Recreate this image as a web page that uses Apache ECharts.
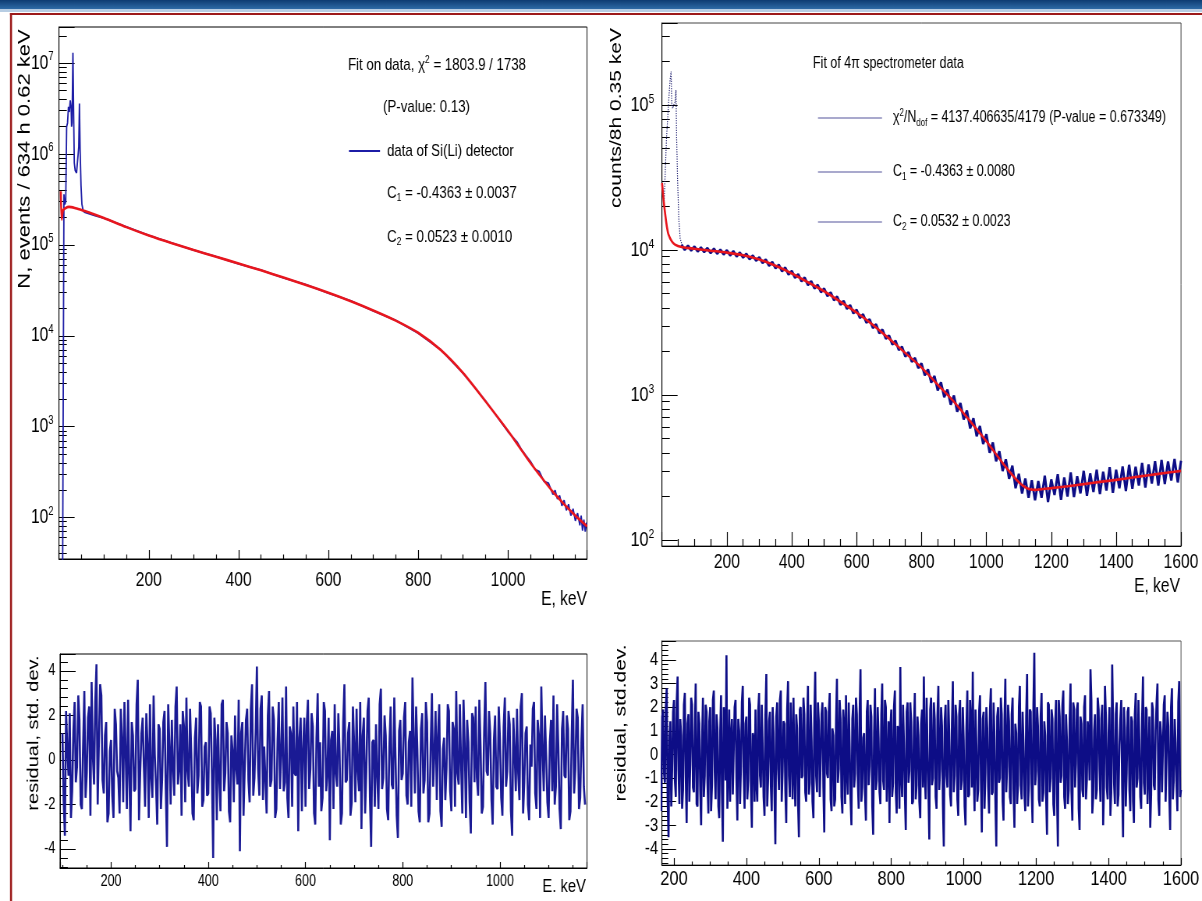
<!DOCTYPE html>
<html><head><meta charset="utf-8">
<script src="https://cdn.jsdelivr.net/npm/echarts@6/dist/echarts.min.js"></script>
<style>
html,body{margin:0;padding:0;overflow:hidden;background:#fff;width:1202px;height:901px}
#c{width:1541px;height:901px;transform:scaleX(0.78);transform-origin:0 0;}
</style></head><body><div id="c"></div>
<script>
// ---------- data ----------
// Panel A: Si(Li) detector spectrum (E keV, events)
const aDataE = [8,11,13,15,17,19,21,23,25,27,28,29,31,32.5,34,36,39,42,44,45.5,47,49,51,54,58,60,80,100,150,200,250,300,350,400,450,500,550,600,650,700,750,800,850,900,950,1000,1020,1030,1040,1050,1060,1070,1080,1090,1100,1105,1110,1115,1120,1125,1130,1135,1140,1145,1150,1155,1160,1163,1166,1169,1172,1175];
const aDataN = [20,360000,280000,300000,2000000,2200000,3300000,2900000,3900000,3200000,2000000,2200000,13000000,3000000,800000,660000,620000,640000,1200000,3600000,1100000,450000,280000,235000,228000,226000,210000,197000,158000,127500,105500,87500,74500,62000,52900,43500,36600,29500,24200,18800,14800,10700,7050,3870,1920,880,680,560,480,415,340,320,250,240,180,200,160,175,135,155,120,140,105,125,92,112,82,105,72,95,70,88];
const aFitE = [4,6,9,15,22,35,50,70,100,150,200,250,300,350,400,450,500,550,600,650,700,750,800,850,900,950,1000,1025,1050,1075,1100,1125,1150,1176];
const aFitN = [390000,190000,240000,255000,262000,255000,242000,225000,198000,157000,127000,105000,88000,74000,62500,52500,43800,36300,29700,24000,19000,14700,10800,7000,3900,1900,900,600,400,275,192,140,105,80];

// Panel B: 4pi spectrometer spectrum
const bSpikeE = [2,6,10,14,18,22,25,28,30,33,36,40,43,45,48,52,56,62];
const bSpikeN = [28000,20000,35000,60000,85000,120000,150000,170000,100000,95000,100000,105000,127000,60000,30000,16000,12000,10800];
const bDataStart = 60, bDataStep = 10;
const bDataN = [10900,10050,10700,9950,10550,9800,10400,9700,10300,9550,
  10200,9450,10050,9350,9950,9200,9800,9050,9600,8900,
  9400,8650,9150,8450,8900,8150,8600,7800,8250,7500,
  7900,7150,7550,6800,7150,6450,6800,6100,6450,5750,
  6080,5450,5750,5130,5420,4830,5090,4520,4760,4210,
  4450,3940,4160,3670,3870,3410,3600,3160,3330,2910,
  3070,2680,2820,2450,2570,2240,2360,2050,2150,1850,
  1970,1700,1800,1540,1650,1370,1500,1220,1350,1080,
  1220,970,1090,860,990,770,880,680,780,590,
  690,520,610,460,535,400,470,350,410,300,
  360,265,325,228,286,210,265,196,258,188,
  255,196,278,183,262,205,284,190,270,200,
  292,198,275,210,300,202,288,215,305,208,
  296,220,318,212,305,228,322,218,330,226,
  320,238,340,230,332,246,350,238,356,244,
  348,258,362,250,352];
const bFitE = [0,5,10,15,20,30,40,60,100,150,200,250,300,350,400,450,500,550,600,650,700,750,800,850,900,950,1000,1050,1100,1125,1150,1200,1250,1300,1350,1400,1450,1500,1550,1600];
const bFitN = [29000,22000,17500,14500,12800,11500,10900,10500,10200,9900,9600,9200,8600,7800,6900,6000,5200,4400,3700,3050,2450,1950,1550,1180,900,660,480,340,250,228,222,228,235,243,252,260,270,280,290,300];

// Panel C: residuals of Si(Li) fit (std. dev.); bins start at 100 keV, 2.5 keV apart
// cRes: bins at 100, 105, 110 ...; cResMid: bins at 102.5, 107.5, ...
const cResStart = 100, cResStep = 5;
const cRes = [1.2,-3.4,0.5,2.1,-1.4,2.6,-0.3,1.8,-2.2,3.1,-0.6,2.4,3.5,-1.1,4.3,0.8,2.9,-1.5,1.7,-2.4,
  0.9,-2.6,1.6,-0.8,2.3,-1.9,0.4,2.7,-3.2,1.1,-1.3,3.6,-0.5,1.9,-2.1,0.7,2.5,-1.7,0.2,-2.9,
  1.4,-0.9,2.2,-3.9,0.6,1.8,-1.6,3.3,-0.4,-2.5,1.5,2.8,-1.2,0.3,-2.7,1.9,-0.7,2.4,-1.8,0.8,
  -1.5,2.1,-4.4,0.9,1.6,-2.3,2.7,-0.6,1.2,-2.8,0.4,2.0,-1.1,-4.1,1.7,-0.3,2.3,-1.9,3.4,-0.8,
  4.2,-1.6,2.9,0.6,-2.4,3.1,-0.9,1.8,-2.2,2.6,0.3,-1.4,3.3,-2.6,1.2,2.4,-0.7,-3.2,1.9,0.5,
  -2.1,2.7,-0.4,1.5,-2.9,3.0,0.8,-1.7,2.2,-0.6,-3.6,1.3,2.5,-1.2,0.4,-2.4,3.4,-0.9,1.7,-1.9,
  0.7,2.3,-1.4,-3.1,1.9,-0.5,2.8,-3.9,0.9,1.6,-2.2,3.2,-0.8,1.1,-2.7,2.4,-1.3,0.2,-3.5,1.8,
  -0.6,2.6,-2.0,1.3,3.7,-1.5,0.5,-2.8,2.1,-0.9,1.7,-2.4,3.0,0.3,-1.8,2.5,-3.0,1.0,-0.4,2.2,
  -2.3,1.4,3.1,-1.1,-0.2,2.7,-2.6,0.8,-3.3,1.9,2.4,-1.6,0.6,-2.1,3.5,-0.7,1.2,-2.9,2.0,-1.3,
  0.9,-2.5,2.8,-0.5,1.6,-3.4,0.4,2.3,-1.8,3.0,-1.0,1.5,-2.7,-0.3,2.6,-2.2,1.1,3.3,-1.4,0.2,
  -2.6,1.8,2.9,-1.2,0.6,-3.1,2.2,-0.8,1.4,-2.3,3.6,-0.4,1.9,-1.7,2.5,-2.0];
const cResMid = [-1.8,2.2,-0.7,-2.6,1.3,-1.0,2.9,-2.0,0.6,-1.7,1.9,-2.5,0.2,2.6,-2.0,3.4,-0.9,1.1,-2.8,0.4,
  -1.6,2.3,-0.5,-2.4,1.0,2.6,-2.2,-0.6,1.7,-1.4,2.5,-2.7,1.2,-0.3,2.1,-2.6,-0.8,2.9,-1.2,1.6,
  -2.2,1.7,-1.3,2.5,-2.0,-0.4,2.4,-1.1,1.6,2.2,-1.9,-0.5,2.3,-2.4,1.0,-1.5,2.6,-2.1,0.6,-1.6,
  2.4,-0.6,1.9,-2.7,-0.8,2.5,-1.4,1.7,-2.3,1.1,-1.9,-0.4,2.7,1.2,-2.5,1.8,-0.9,2.3,-1.6,1.3,
  -0.4,2.3,-1.8,-0.9,2.0,-1.2,2.4,-2.6,0.9,-1.3,2.8,-1.0,-1.7,1.5,-2.1,-0.6,2.6,1.0,-2.3,1.9,
  1.6,-1.3,2.1,-2.4,1.0,-1.2,-2.3,2.6,-1.4,1.9,0.9,-2.2,-0.6,2.1,-2.9,1.7,-1.0,1.2,-2.5,2.4,
  -1.9,-0.5,2.6,1.1,-2.4,2.2,-1.7,0.8,-2.1,-0.7,2.5,-1.3,2.0,-2.2,0.6,-1.1,2.8,-2.5,1.3,-0.9,
  1.9,-1.6,0.8,-2.1,0.9,2.4,-2.3,1.4,-1.5,2.6,-2.8,0.7,-1.2,2.2,1.1,-2.3,0.5,-1.8,2.5,-1.4,
  1.7,-2.1,-0.6,2.5,-2.4,0.6,1.8,-1.9,2.1,-1.0,-0.8,2.7,-2.4,1.4,-0.5,2.2,-1.8,0.9,-1.2,2.4,
  -1.7,1.5,-1.2,2.2,-2.3,1.9,-1.4,-0.6,2.4,-2.4,1.2,-2.0,0.7,2.3,-1.5,1.8,-2.6,0.5,2.0,-1.9,
  0.8,-1.4,-2.0,2.5,-2.2,1.4,-0.7,2.0,-2.7,1.1,-1.5,2.3,-2.2,0.9,-1.2,1.6];

// Panel D: residuals of 4pi fit (std.dev.); bins start at 165 keV, 2.5 keV apart
const dResStart = 165, dResStep = 5;
const dRes = [-2.4,1.9,-1.2,2.8,-3.5,1.4,-0.6,2.3,-1.8,3.3,-2.1,0.8,-1.5,2.6,-2.9,1.7,-0.4,2.1,-1.6,3.0,
  -2.2,1.3,-3.0,2.4,-0.9,1.8,-2.5,2.0,-1.3,2.7,-1.9,1.1,-2.7,2.5,-3.7,1.6,4.2,-0.8,-2.0,1.5,
  -1.7,2.3,-2.8,1.0,-0.5,2.9,-2.3,1.6,-1.1,2.1,-3.1,0.7,1.9,-2.0,2.6,-1.4,0.3,-2.6,3.4,-1.0,
  1.8,-2.4,0.9,-3.8,2.2,-1.5,2.7,-0.7,1.3,-2.9,3.1,-1.8,0.5,2.4,-2.2,1.1,-3.5,2.0,-0.9,1.7,
  -2.0,2.9,-1.2,0.6,-2.7,3.5,-1.6,1.4,-0.3,2.2,-3.3,1.8,-1.0,2.6,-2.4,0.8,-1.9,3.2,-0.6,1.5,
  -2.5,1.2,2.5,-1.7,0.4,-3.0,2.1,-0.8,1.7,-2.3,3.6,-1.4,0.9,-2.8,2.3,-0.5,1.6,-3.4,2.8,-1.1,
  0.7,-2.1,3.0,-1.5,2.0,-0.4,-2.9,1.9,-1.2,2.7,-2.5,1.0,3.7,-1.8,0.5,-3.2,2.2,-0.7,1.4,-2.0,
  2.6,-1.3,0.8,-2.7,1.9,3.3,-1.9,0.3,-3.6,2.4,-1.0,1.5,-2.3,2.9,-0.6,1.2,-3.9,2.1,-1.4,0.9,
  -2.2,3.1,-0.9,1.6,-2.6,2.3,-1.1,0.6,-3.0,2.7,-1.7,1.3,3.5,-2.4,0.4,-1.5,2.5,-3.3,1.8,-0.8,
  1.1,-2.5,2.8,-1.6,0.7,-3.9,2.0,-1.0,1.7,-2.8,3.2,-0.5,1.4,-2.1,2.4,-3.1,0.9,-1.3,2.9,-1.9,
  0.5,-2.4,3.4,-1.2,1.8,-2.9,4.3,-0.7,1.2,-2.2,2.6,-1.6,0.8,-3.4,2.1,-1.0,1.5,-2.6,2.3,-3.9,
  1.6,-0.9,2.7,-2.3,0.6,-1.5,3.0,-2.8,1.9,-0.4,2.2,-3.2,1.3,-1.8,2.5,-1.1,0.7,3.6,-2.5,1.0,
  -1.9,2.4,-0.6,1.5,-3.0,2.9,-1.4,0.9,-2.6,3.8,-1.2,1.7,-2.2,0.4,2.3,-3.5,1.1,-0.8,2.0,-2.4,
  1.4,-2.9,2.6,-1.0,0.6,-2.3,3.3,-1.7,1.9,-0.5,-3.1,2.2,-1.3,1.0,3.0,-2.6,0.8,-1.6,2.5,-2.0,
  1.2,-3.2,2.8,-1.1,0.5,-2.4,3.1,-1.5];
const dResMid = [1.6,-0.8,2.0,-1.9,0.7,-2.2,1.8,-1.1,2.2,-0.6,1.5,-2.3,2.1,-0.9,1.3,-2.0,2.4,-1.4,0.9,-2.1,
  1.8,-1.5,0.6,-1.8,2.1,-1.2,1.4,-2.4,2.3,-0.7,1.7,-2.2,0.9,-1.6,2.0,-1.1,-2.3,1.9,0.8,-1.7,
  2.0,-1.0,1.5,-2.1,2.2,-0.8,1.3,-1.9,2.4,-1.5,0.9,-2.0,-1.2,1.8,-0.9,2.1,-1.8,1.6,-2.2,1.4,
  -1.3,2.0,-1.7,1.6,-0.6,2.3,-2.0,1.4,-1.5,1.9,-0.9,2.2,-1.9,-0.7,1.7,-2.1,1.9,-1.0,2.4,-1.6,
  1.2,-1.7,2.1,-2.0,1.5,-0.9,2.2,-1.8,1.7,-1.4,2.0,-0.8,1.8,-1.9,1.1,-2.2,1.4,-1.2,2.3,-1.8,
  1.9,-2.1,-0.7,2.2,-1.9,1.5,-1.4,2.4,-1.1,1.6,-2.0,0.7,-1.7,1.8,-1.3,2.1,-2.2,0.9,-1.5,2.0,
  -1.6,1.7,-1.1,2.3,-2.0,1.4,1.1,-1.8,2.0,-1.6,1.2,-2.3,-0.9,2.1,-1.7,1.8,-1.2,2.2,-2.1,1.1,
  -1.9,1.6,-2.0,1.3,-1.4,-0.8,2.4,-1.6,1.9,-1.3,2.2,-1.8,1.6,-1.5,2.0,-2.1,1.4,-0.9,2.3,-1.7,
  1.3,-1.6,2.1,-1.9,1.7,-1.5,2.0,-2.2,1.1,-1.8,2.3,-1.4,-0.8,1.9,-2.0,1.8,-1.1,1.5,-2.3,2.0,
  -1.4,1.9,-1.7,2.2,-1.9,1.6,-1.2,2.4,-2.0,1.4,-1.6,2.1,-1.8,1.7,-1.5,1.3,-2.1,2.0,-1.3,1.8,
  -1.7,1.6,-2.2,1.9,-1.5,2.1,-1.3,2.0,-1.9,1.6,-2.0,1.4,-1.8,2.2,-1.6,1.9,-2.1,1.3,-1.7,2.3,
  -1.2,2.1,-1.8,1.7,-2.1,1.5,-1.6,2.2,-1.4,1.9,-2.3,1.6,-1.5,2.0,-1.9,1.4,-1.1,2.3,-1.8,1.7,
  -1.5,1.9,-2.0,2.1,-1.3,1.7,-1.9,2.0,-1.6,1.4,-2.1,2.2,-1.7,1.5,-1.4,2.0,-2.2,1.8,-1.5,1.6,
  -2.0,1.7,-1.4,2.3,-1.8,1.5,-1.2,2.0,-2.1,1.6,-1.7,1.9,-1.5,2.2,-1.9,1.4,-1.6,2.1,-2.0,1.8,
  -1.6,2.0,-1.9,1.5,-1.3,2.2,-1.8,1.4];

// ---------- helpers ----------
const SX = 0.78;                 // the slide is squeezed horizontally
const X = v => v / SX;           // reference px -> chart px (layout only)
const FF = "'Liberation Sans', Arial, Helvetica, sans-serif";
const zip = (xs, ys) => xs.map((x, i) => [x, ys[i]]);
const binned = (start, step, ys) => ys.map((y, i) => [start + i * step, y]);
function interleave(start, step, a, b) {
  const out = [];
  for (let i = 0; i < a.length; i++) {
    out.push([start + i * step, a[i]]);
    if (i < b.length && i < a.length - 1) out.push([start + i * step + step / 2, b[i]]);
  }
  return out;
}
const plain = v => String(Math.round(v * 1000) / 1000);

const BLUE = '#1c1ca6', NAVY = '#0d0d86', RED = '#e8161d';

function powLabel(v) {
  const n = Math.round(Math.log10(v));
  if (Math.abs(Math.pow(10, n) - v) / v > 1e-6) return '';
  return '{b|10}{s|' + n + '}';
}
function powRich(fs) {
  return { b: { fontSize: fs, lineHeight: fs + 4, fontFamily: FF, color: '#000' },
           s: { fontSize: Math.round(fs * 0.62), lineHeight: 6, verticalAlign: 'top', fontFamily: FF, color: '#000' } };
}
function xAx(grid, min, max, split, fs, margin, tl, ml, showMax) {
  return { gridIndex: grid, type: 'value', min: min, max: max, splitNumber: split,
    axisLine: { show: true, onZero: false, lineStyle: { color: '#000', width: 1 } },
    axisTick: { show: true, inside: true, length: tl, lineStyle: { color: '#000', width: 1.2 } },
    minorTick: { show: true, splitNumber: 4, length: ml, lineStyle: { color: '#000', width: 1.2 } },
    splitLine: { show: false },
    axisLabel: { fontSize: fs, color: '#000', fontFamily: FF, margin: margin, formatter: plain,
      showMinLabel: false, showMaxLabel: !!showMax } };
}
function yLog(grid, min, max, fs, margin) {
  return { gridIndex: grid, type: 'log', logBase: 10, min: min, max: max,
    axisLine: { show: true, onZero: false, lineStyle: { color: '#000' } },
    axisTick: { show: true, inside: true, length: 20, lineStyle: { color: '#000' } },
    minorTick: { show: true, splitNumber: 9, length: 10, lineStyle: { color: '#000' } },
    splitLine: { show: false }, minorSplitLine: { show: false },
    axisLabel: { formatter: powLabel, rich: powRich(fs), margin: margin, showMinLabel: false, showMaxLabel: false } };
}
function yVal(grid, min, max, split, fs, margin, tl, ml, msplit) {
  return { gridIndex: grid, type: 'value', min: min, max: max, splitNumber: split,
    axisLine: { show: true, onZero: false, lineStyle: { color: '#000' } },
    axisTick: { show: true, inside: true, length: tl, lineStyle: { color: '#000' } },
    minorTick: { show: true, splitNumber: msplit, length: ml, lineStyle: { color: '#000' } },
    splitLine: { show: false },
    axisLabel: { fontSize: fs, color: '#000', fontFamily: FF, margin: margin, formatter: plain,
      showMinLabel: false, showMaxLabel: false } };
}
function txt(x, y, text, fs, extra) {
  return Object.assign({ type: 'text', x: X(x), y: y, z: 100, silent: true,
    style: { text: text, fontSize: fs, fontFamily: FF, fill: '#000',
      align: 'left', textAlign: 'left', verticalAlign: 'middle', textVerticalAlign: 'middle',
      rich: { a: { fontSize: fs, lineHeight: fs + 4, fontFamily: FF, fill: '#000', color: '#000' },
              p: { fontSize: Math.round(fs * 0.65), lineHeight: 6, verticalAlign: 'top', fontFamily: FF, color: '#000' },
              b: { fontSize: Math.round(fs * 0.65), lineHeight: 4, verticalAlign: 'bottom', fontFamily: FF, color: '#000' } } } }, extra || {});
}
function title(x, y, text, fs, rot, align) {
  return { type: 'text', x: X(x), y: y, z: 100, silent: true, rotation: rot,
    style: { text: text, fontSize: fs, fontFamily: FF, fill: '#000', align: align, textAlign: align,
      verticalAlign: 'middle', textVerticalAlign: 'middle' } };
}
function seg(x1, x2, y, color, w) {
  return { type: 'line', z: 100, silent: true, shape: { x1: X(x1), y1: y, x2: X(x2), y2: y }, style: { stroke: color, lineWidth: w } };
}

const chart = echarts.init(document.getElementById('c'), null, { renderer: 'canvas' });
chart.setOption({
  animation: false,
  backgroundColor: '#fff',
  textStyle: { fontFamily: FF },
  grid: [
    { left: X(59), top: 27, width: X(587) - X(59), height: 532, show: true, borderColor: '#000', borderWidth: 1, containLabel: false },
    { left: X(662), top: 23, width: X(1181) - X(662), height: 523, show: true, borderColor: '#444', borderWidth: 1, containLabel: false },
    { left: X(60), top: 654, width: X(587) - X(60), height: 214, show: true, borderColor: '#000', borderWidth: 1, containLabel: false },
    { left: X(662), top: 641, width: X(1181) - X(662), height: 224, show: true, borderColor: '#555', borderWidth: 1, containLabel: false }
  ],
  xAxis: [
    xAx(0, 0, 1176, 6, 20, 11, 9, 4.5, false),
    xAx(1, 0, 1600, 8, 20, 6, 14, 7, true),
    xAx(2, 95, 1179, 5, 16, 6, 6, 3, false),
    xAx(3, 167, 1600, 7, 21, 4, 7, 3.5, true)
  ],
  yAxis: [
    yLog(0, 35, 2.5e7, 20, 7),
    yLog(1, 91, 3.68e5, 21, 10),
    yVal(2, -4.85, 4.76, 5, 16, 6, 20, 10, 5),
    yVal(3, -4.68, 4.8, 9, 19, 5, 18, 8, 5)
  ],
  series: [
    { name: 'data of Si(Li) detector', type: 'line', xAxisIndex: 0, yAxisIndex: 0, data: zip(aDataE, aDataN),
      showSymbol: false, lineStyle: { color: BLUE, width: 1.8 }, z: 2 },
    { name: 'fit A', type: 'line', xAxisIndex: 0, yAxisIndex: 0, data: zip(aFitE, aFitN),
      showSymbol: false, smooth: 0.25, lineStyle: { color: RED, width: 2.6 }, z: 3 },
    { name: '4pi low', type: 'line', xAxisIndex: 1, yAxisIndex: 1, data: zip(bSpikeE, bSpikeN),
      showSymbol: false, lineStyle: { color: '#202070', width: 1.2, type: 'dotted' }, z: 2 },
    { name: '4pi data', type: 'line', xAxisIndex: 1, yAxisIndex: 1, data: binned(bDataStart, bDataStep, bDataN),
      showSymbol: false, lineStyle: { color: NAVY, width: 3.0 }, z: 2 },
    { name: 'fit B', type: 'line', xAxisIndex: 1, yAxisIndex: 1, data: zip(bFitE, bFitN),
      showSymbol: false, smooth: 0.2, lineStyle: { color: RED, width: 2.6 }, z: 3 },
    { name: 'residual A', type: 'line', xAxisIndex: 2, yAxisIndex: 2, data: interleave(cResStart, cResStep, cRes, cResMid),
      showSymbol: false, sampling: null, lineStyle: { color: '#1a1a94', width: 2.6, join: 'bevel' }, z: 2 },
    { name: 'residual B', type: 'line', xAxisIndex: 3, yAxisIndex: 3, data: interleave(dResStart, dResStep, dRes, dResMid),
      showSymbol: false, sampling: null, lineStyle: { color: NAVY, width: 2.6, join: 'bevel' }, z: 2 }
  ],
  graphic: [
    { type: 'rect', silent: true, z: 50, shape: { x: 0, y: 0, width: 1541, height: 9 },
      style: { fill: new echarts.graphic.LinearGradient(0, 0, 0, 1, [{ offset: 0, color: '#0e3c72' }, { offset: 1, color: '#2f6ba6' }]) } },
    { type: 'rect', silent: true, z: 50, shape: { x: 0, y: 9, width: 1541, height: 3 }, style: { fill: '#b7cde3' } },
    { type: 'line', silent: true, z: 50, shape: { x1: X(10), y1: 14, x2: 1541, y2: 14 }, style: { stroke: '#9c1a1a', lineWidth: 2 } },
    { type: 'line', silent: true, z: 50, shape: { x1: X(11), y1: 13, x2: X(11), y2: 901 }, style: { stroke: '#9c1a1a', lineWidth: 2.6 } },
    // axis titles
    title(25, 159, 'N, events / 634 h 0.62 keV', 22, Math.PI / 2, 'center'),
    title(616, 118, 'counts/8h 0.35 keV', 21, Math.PI / 2, 'center'),
    title(34, 733, 'residual, std. dev.', 20, Math.PI / 2, 'center'),
    title(621, 723, 'residual, std.dev.', 21, Math.PI / 2, 'center'),
    title(587, 599, 'E, keV', 20, 0, 'right'),
    title(1180, 586, 'E, keV', 20, 0, 'right'),
    title(586, 887, 'E. keV', 19, 0, 'right'),
    // legend of panel A
    txt(348, 65, '{a|Fit on data, χ}{p|2}{a| = 1803.9 / 1738}', 17),
    txt(383, 107, '{a|(P-value: 0.13)}', 17),
    seg(349, 380, 151, BLUE, 2),
    txt(387, 151, '{a|data of Si(Li) detector}', 17),
    txt(387, 193, '{a|C}{b|1}{a| = -0.4363 ± 0.0037}', 17),
    txt(387, 237, '{a|C}{b|2}{a| = 0.0523 ± 0.0010}', 17),
    // legend of panel B
    txt(813, 64, '{a|Fit of 4π spectrometer data}', 16),
    seg(818, 882, 118, '#8c8cbc', 1.5),
    seg(818, 882, 172, '#8c8cbc', 1.5),
    seg(818, 882, 222, '#8c8cbc', 1.5),
    txt(893, 118, '{a|χ}{p|2}{a|/N}{b|dof}{a| = 4137.406635/4179 (P-value = 0.673349)}', 16),
    txt(893, 172, '{a|C}{b|1}{a| = -0.4363 ± 0.0080}', 16),
    txt(893, 222, '{a|C}{b|2}{a| = 0.0532 ± 0.0023}', 16)
  ]
});
</script></body></html>
